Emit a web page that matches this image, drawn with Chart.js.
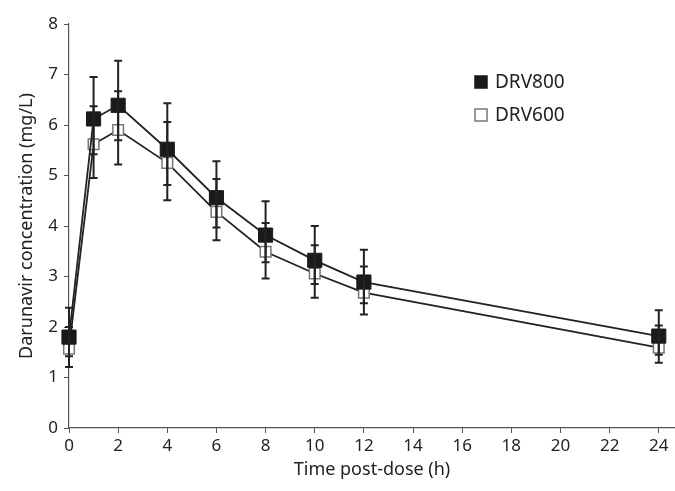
<!DOCTYPE html>
<html>
<head>
<meta charset="utf-8">
<script src="https://cdn.jsdelivr.net/npm/chart.js@4/dist/chart.umd.min.js"></script>
<style>
  html, body { margin: 0; padding: 0; background: #fff; }
  #wrap { width: 675px; height: 491px; }
</style>
</head>
<body>
<div id="wrap"><canvas id="c"></canvas></div>
<script>
// ---------- data ----------
const times    = [0, 1, 2, 4, 6, 8, 10, 12, 24];
const xTicks   = [0, 2, 4, 6, 8, 10, 12, 14, 16, 18, 20, 22, 24];

const drv800   = [1.80, 6.12, 6.39, 5.52, 4.56, 3.82, 3.32, 2.89, 1.82];
const drv800Hi = [2.38, 6.95, 7.27, 6.43, 5.28, 4.49, 4.00, 3.53, 2.33];
const drv800Lo = [1.21, 5.42, 5.70, 4.81, 3.97, 3.28, 2.85, 2.47, 1.45];

const drv600   = [1.57, 5.62, 5.90, 5.25, 4.28, 3.49, 3.06, 2.68, 1.59];
const drv600Hi = [2.00, 6.37, 6.67, 6.06, 4.93, 4.06, 3.62, 3.20, 2.03];
const drv600Lo = [1.42, 4.95, 5.22, 4.51, 3.72, 2.96, 2.58, 2.25, 1.29];

const FONT = '"Noto Sans", sans-serif';
const INK  = '#222';

const pts = (ys) => times.map((t, i) => ({ x: t, y: ys[i] }));

// ---------- error bars ----------
const errorBars = {
  id: 'errorBars',
  afterDatasetsDraw(chart) {
    const { ctx, scales: { x, y } } = chart;
    ctx.save();
    ctx.strokeStyle = INK;
    ctx.lineWidth = 2;
    chart.data.datasets.forEach((ds) => {
      times.forEach((t, i) => {
        const px = x.getPixelForValue(t);
        const top = y.getPixelForValue(ds.hi[i]);
        const bot = y.getPixelForValue(ds.lo[i]);
        ctx.beginPath();
        ctx.moveTo(px, top); ctx.lineTo(px, bot);
        ctx.moveTo(px - 4, top); ctx.lineTo(px + 4, top);
        ctx.moveTo(px - 4, bot); ctx.lineTo(px + 4, bot);
        ctx.stroke();
      });
    });
    ctx.restore();
  }
};

// ---------- legend inside plot ----------
const boxLegend = {
  id: 'boxLegend',
  afterDraw(chart) {
    const { ctx } = chart;
    ctx.save();
    ctx.font = '19px ' + FONT;
    ctx.textBaseline = 'middle';
    chart.data.datasets.forEach((ds, i) => {
      const cy = 82 + i * 33;
      ctx.fillStyle = ds.pointBackgroundColor;
      ctx.strokeStyle = ds.pointBorderColor;
      ctx.lineWidth = 1.5;
      ctx.fillRect(475, cy - 6, 12, 12);
      ctx.strokeRect(475, cy - 6, 12, 12);
      ctx.fillStyle = INK;
      ctx.fillText(ds.label, 495, cy + 1);
    });
    ctx.restore();
  }
};

new Chart(document.getElementById('c'), {
  type: 'line',
  data: {
    datasets: [
      {
        label: 'DRV800',
        data: pts(drv800), hi: drv800Hi, lo: drv800Lo,
        borderColor: INK, borderWidth: 1.8,
        pointStyle: 'rect', pointRadius: 10, pointHoverRadius: 10,
        pointBackgroundColor: '#1a1a1a', pointBorderColor: '#1a1a1a', pointBorderWidth: 1,
        tension: 0, clip: false
      },
      {
        label: 'DRV600',
        data: pts(drv600), hi: drv600Hi, lo: drv600Lo,
        borderColor: INK, borderWidth: 1.8,
        pointStyle: 'rect', pointRadius: 7.5, pointHoverRadius: 7.5,
        pointBackgroundColor: '#fff', pointBorderColor: '#777', pointBorderWidth: 1.5,
        tension: 0, clip: false
      }
    ]
  },
  options: {
    responsive: true,
    maintainAspectRatio: false,
    animation: false,
    layout: { autoPadding: false, padding: { top: 24, right: 0, left: 0, bottom: 0 } },
    plugins: {
      legend: { display: false },
      tooltip: { enabled: false }
    },
    scales: {
      x: {
        type: 'linear',
        min: 0, max: 24.66,
        afterBuildTicks: (s) => { s.ticks = xTicks.map(v => ({ value: v })); },
        afterFit: (s) => { s.height = 63; s.paddingLeft = 0; s.paddingRight = 0; },
        border: { display: true, color: '#555', width: 1.2 },
        grid: { drawOnChartArea: false, drawTicks: true, tickLength: 5, color: '#555' },
        ticks: { color: INK, padding: 3, maxRotation: 0, font: { family: FONT, size: 17 } },
        title: { display: true, text: 'Time post-dose (h)', color: INK,
                 padding: { top: 0, bottom: 10 }, font: { family: FONT, size: 18 } }
      },
      y: {
        min: 0, max: 8,
        ticks: { stepSize: 1, color: INK, padding: 6, font: { family: FONT, size: 17 } },
        afterFit: (s) => { s.width = 69; },
        border: { display: true, color: '#555', width: 1.2 },
        grid: { drawOnChartArea: false, drawTicks: true, tickLength: 5, color: '#555' },
        title: { display: true, text: 'Darunavir concentration (mg/L)', color: INK,
                 padding: { top: 16, bottom: 0 }, font: { family: FONT, size: 18 } }
      }
    }
  },
  plugins: [errorBars, boxLegend]
});
</script>
</body>
</html>
